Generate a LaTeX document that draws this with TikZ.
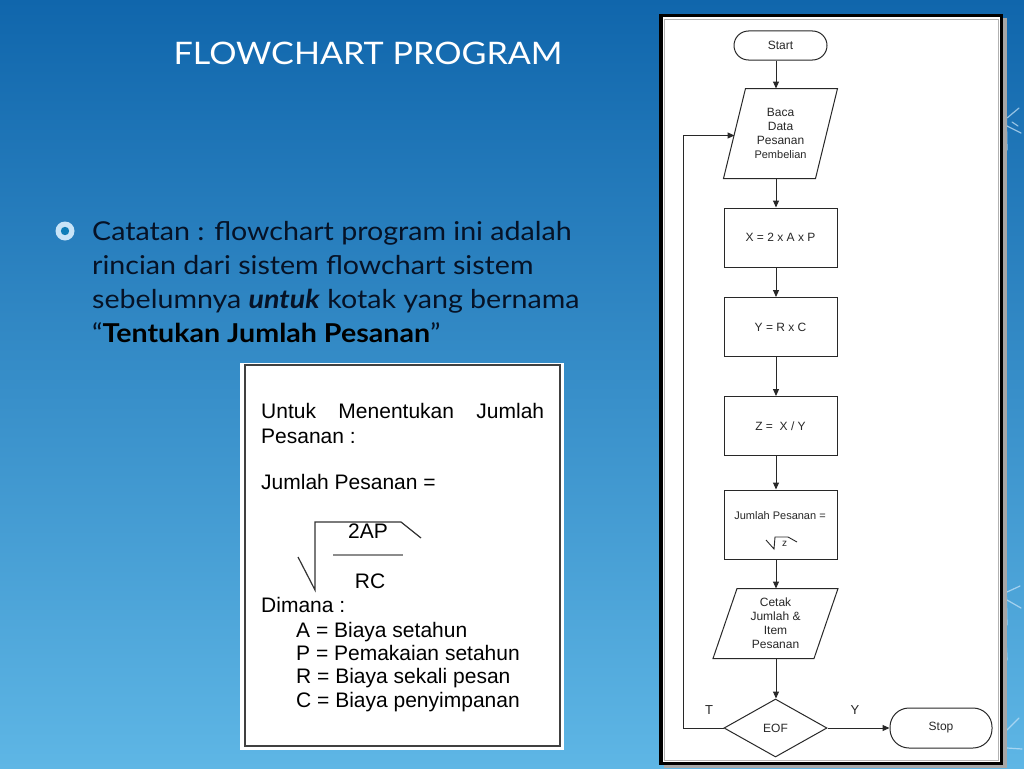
\documentclass[tikz,border=0pt]{standalone}
\usepackage{fontspec}
\setmainfont{Lato}
\newfontfamily\slidefont{Lato}[FakeStretch=1.1]
\newfontfamily\arial{Liberation Sans}
\usetikzlibrary{shapes.geometric,arrows.meta}
\definecolor{bgtop}{RGB}{16,102,172}
\definecolor{bgmid}{RGB}{42,140,204}
\definecolor{bgbot}{RGB}{94,182,229}
\definecolor{fcline}{RGB}{40,40,40}
\definecolor{txtdark}{RGB}{6,18,38}
\definecolor{flake}{RGB}{200,228,248}
\begin{document}
\begin{tikzpicture}[x=1pt,y=-1pt,
  fc/.style={draw=fcline, line width=1pt, text=fcline, inner sep=0pt, align=center,
             font=\arial\fontsize{12}{14}\selectfont},
  procbox/.style={fc, rectangle, minimum width=113pt, minimum height=59pt},
  termbox/.style={fc, rectangle},
  iotext/.style={fc, draw=none, rectangle},
  iodraw/.style={draw=fcline, line width=1pt, line join=miter},
  decis/.style={fc, diamond, minimum width=103pt, minimum height=58pt},
  flow/.style={draw=fcline, line width=1pt, -{Triangle[length=7pt,width=6pt]}},
  lbl/.style={text=fcline, font=\arial\fontsize{13}{14}\selectfont, inner sep=0pt},
  boxtxt/.style={anchor=base west, inner sep=0pt, text=black, font=\arial\fontsize{21}{23}\selectfont},
  bultxt/.style={anchor=base west, inner sep=0pt, text=txtdark, font=\slidefont\fontsize{26}{34}\selectfont},
  ]
\useasboundingbox (0,0) rectangle (1024,768);
% background
\shade[top color=bgtop, middle color=bgmid, bottom color=bgbot] (0,0) rectangle (1024,768);
% decorative snowflake fragments on the right edge
\begin{scope}[draw=flake, line width=1.2pt, line cap=round, opacity=0.7]
  \draw (1006,100) -- (1007,150);
  \draw (1007,118) -- (1019,108);
  \draw (1007,126) -- (1021,133);
  \draw (1012,122) -- (1018,126);
  \draw (1006,580) -- (1007,625);
  \draw (1007,592) -- (1020,586);
  \draw (1007,600) -- (1021,608);
  \draw (1006,640) -- (1007,660);
  \draw (1007,730) -- (1019,718);
  \draw (1007,748) -- (1022,749);
\end{scope}
% title
\node[text=white, font=\slidefont\fontsize{31}{32}\selectfont, inner sep=0pt] (title) at (368,53) {FLOWCHART PROGRAM};
% bullet
\fill[flake] (65,231) circle (9.5);
\fill[bgtop!85!cyan] (65,231) circle (4.2);
\node[bultxt] (b1) at (92,240) {Catatan : flowchart program ini adalah};
\node[bultxt] (b2) at (92,274) {rincian dari sistem flowchart sistem};
\node[bultxt] (b3) at (92,308) {sebelumnya \textbf{\textit{untuk}} kotak yang bernama};
\node[bultxt] (b4) at (92,342) {“\textbf{\color{black}Tentukan Jumlah Pesanan}”};
% left white box
\fill[white] (240,363) rectangle (564,750);
\draw[black!75, line width=1.3pt] (245,365) rectangle (560,746);
\node[boxtxt] (u1) at (261,418) {\makebox[283pt][s]{Untuk\hfill Menentukan\hfill Jumlah}};
\node[boxtxt] (u2) at (261,443) {Pesanan :};
\node[boxtxt] (u3) at (261,489) {Jumlah Pesanan =};
\node[boxtxt, anchor=base] (num) at (368,538) {2AP};
\node[boxtxt, anchor=base] (den) at (370,588) {RC};
\draw[black!80, line width=1.2pt] (298,557) -- (315,590) -- (315,522) -- (401,522) -- (421,538);
\draw[black!45, line width=1.8pt] (333,555) -- (403,555);
\node[boxtxt] (d0) at (261,612) {Dimana :};
\node[boxtxt] (d1) at (296,637) {A = Biaya setahun};
\node[boxtxt] (d2) at (296,660) {P = Pemakaian setahun};
\node[boxtxt] (d3) at (296,683) {R = Biaya sekali pesan};
\node[boxtxt] (d4) at (296,707) {C = Biaya penyimpanan};
% flowchart panel
\fill[black!35] (664,18) rectangle (1007,768);
\fill[white] (661,16) rectangle (1001,763);
\draw[black, line width=3.6pt] (661,15.5) rectangle (1001.5,763.5);
\draw[black!30, line width=0.8pt] (664.5,19) rectangle (998,760);
% flowchart nodes
\coordinate (col) at (776,0);
\coordinate (loopx) at (683,0);
\node[termbox, minimum width=93pt, minimum height=29pt, rounded corners=14.5pt] (start) at (780.5,45.5) {Start};
\node[iotext, minimum width=91pt, minimum height=89pt] (baca) at (780.5,133.5)
  {Baca\\Data\\Pesanan\\{\fontsize{11}{14}\selectfont Pembelian}};
\draw[iodraw] ([xshift=-11pt]baca.south west) -- ([xshift=11pt]baca.north west)
  -- ([xshift=11pt]baca.north east) -- ([xshift=-11pt]baca.south east) -- cycle;
\node[procbox] (px) at (780.5,237.5) {X = 2 x A x P};
\node[procbox] (py) at (780.5,327) {Y = R x C};
\node[procbox] (pz) at (780.5,426) {Z =\ \ X / Y};
\node[procbox, minimum height=69pt] (pj) at (780.5,524.5) {};
\node[text=fcline, font=\arial\fontsize{11}{12}\selectfont, inner sep=0pt] (pjt) at (780,516) {Jumlah Pesanan =};
\draw[fcline, line width=0.9pt] (766,540) -- (774,549) -- (775,537) -- (788,537) -- (797,542);
\node[text=fcline, font=\arial\fontsize{10}{12}\selectfont, inner sep=0pt] (pjz) at (784.5,544) {z};
\node[iotext, minimum width=100pt, minimum height=69pt] (cetak) at (775.5,623.5)
  {Cetak\\Jumlah \&\\Item\\Pesanan};
\draw[iodraw] ([xshift=-12pt]cetak.south west) -- ([xshift=12pt]cetak.north west)
  -- ([xshift=12pt]cetak.north east) -- ([xshift=-12pt]cetak.south east) -- cycle;
\node[decis] (eof) at (775.5,728) {EOF};
\node[termbox, minimum width=102pt, minimum height=40pt, rounded corners=19pt] (stop) at (941,728) {Stop};
% connectors
\draw[flow] (start.south -| col) -- (baca.north -| col);
\draw[flow] (baca.south -| col) -- (px.north -| col);
\draw[flow] (px.south -| col) -- (py.north -| col);
\draw[flow] (py.south -| col) -- (pz.north -| col);
\draw[flow] (pz.south -| col) -- (pj.north -| col);
\draw[flow] (pj.south -| col) -- (cetak.north -| col);
\draw[flow] (cetak.south -| col) -- (eof.north -| col);
\draw[flow] (eof.east) -- (stop.west);
\draw[flow] (eof.west) -- (eof.west -| loopx) |- ([yshift=-2pt]baca.west);
\node[lbl] (lt) at (709,710) {T};
\node[lbl] (ly) at (855,710) {Y};
\end{tikzpicture}
\end{document}
